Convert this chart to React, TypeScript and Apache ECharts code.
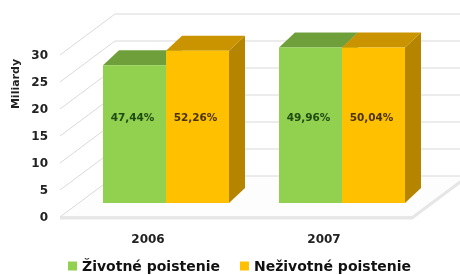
import React, { useEffect, useRef } from "react";
import * as echarts from "echarts";

const years = ["2006", "2007"];
const lifeValues = [25.5, 28.8];
const nonLifeValues = [28.2, 28.8];
const lifeShares = ["47,44%", "49,96%"];
const nonLifeShares = ["52,26%", "50,04%"];
const seriesNames = ["Životné poistenie", "Neživotné poistenie"];
const yTicks = [0, 5, 10, 15, 20, 25, 30];

const FONT = "DejaVu Sans";

export default function App() {
  const ref = useRef<HTMLDivElement>(null);
  useEffect(() => {
    if (!ref.current) return;
    const chart = echarts.init(ref.current, undefined, { renderer: "svg" });

    const DX = 55, DY = 41; // floor depth
    const BX = 18, BY = 14; // bar front-plane offset
    const DDX = 16, DDY = 15; // bar depth
    const BAR_FRAC = 63 / 176;
    const LABEL_LEVEL = 16;

    const faces = {
      0: { front: "#92d050", top: "#6f9f3a", side: "#6f9f3a", text: "#1f4a12", labels: lifeShares },
      1: { front: "#ffc000", top: "#c99400", side: "#b58500", text: "#4a3300", labels: nonLifeShares },
    } as any;

    const barRender = (s: number) => (params: any, api: any) => {
      const idx = api.value(0);
      const val = api.value(1);
      const c = api.coord([idx, 0]);
      const band = api.size([1, 0])[0];
      const w = band * BAR_FRAC;
      const x0 = (s === 0 ? c[0] - w : c[0]) + BX;
      const yBot = c[1] - BY;
      const yTop = api.coord([idx, val])[1] - BY;
      const f = faces[s];
      const ly = api.coord([idx, LABEL_LEVEL])[1] - BY;
      return {
        type: "group",
        children: [
          {
            type: "polygon",
            shape: { points: [[x0 + w, yTop], [x0 + w + DDX, yTop - DDY], [x0 + w + DDX, yBot - DDY], [x0 + w, yBot]] },
            style: { fill: f.side },
          },
          {
            type: "polygon",
            shape: { points: [[x0, yTop], [x0 + w, yTop], [x0 + w + DDX, yTop - DDY], [x0 + DDX, yTop - DDY]] },
            style: { fill: f.top },
          },
          {
            type: "rect",
            shape: { x: x0, y: yTop, width: w, height: yBot - yTop },
            style: { fill: f.front },
          },
          {
            type: "text",
            x: x0 + w / 2 - 2,
            y: ly,
            style: {
              text: f.labels[params.dataIndex],
              fill: f.text,
              font: `bold 10.5px "${FONT}"`,
              align: "center",
              verticalAlign: "middle",
            },
          },
        ],
      };
    };

    const wallRender = (params: any, api: any) => {
      const cs = params.coordSys;
      const v = api.value(1);
      const y = api.coord([0, v])[1];
      const x = cs.x;
      const children: any[] = [];
      if (v === 0) {
        children.push({
          type: "polygon",
          shape: { points: [[x, y], [x + cs.width, y], [x + cs.width + DX, y - DY], [x + DX, y - DY]] },
          style: { fill: "#fdfdfd", stroke: "#d9d9d9", lineWidth: 1 },
        });
        children.push({
          type: "polyline",
          shape: { points: [[x, y + 1], [x + cs.width, y + 1], [x + cs.width + DX, y - DY + 1]] },
          style: { fill: "none", stroke: "#e6e6e6", lineWidth: 3 },
        });
      } else {
        children.push({
          type: "polyline",
          shape: { points: [[x, y], [x + DX, y - DY], [x + cs.width + DX + 20, y - DY]] },
          style: { fill: "none", stroke: "#d9d9d9", lineWidth: 1 },
        });
      }
      return { type: "group", children };
    };

    chart.setOption({
      animation: false,
      grid: { left: 60, right: 48, top: 55, bottom: 58 },
      xAxis: {
        type: "category",
        data: years,
        axisLine: { show: false },
        axisTick: { show: false },
        axisLabel: { margin: 16, fontFamily: FONT, fontWeight: "bold", fontSize: 12, color: "#222" },
      },
      yAxis: {
        type: "value",
        min: 0,
        max: 30,
        interval: 5,
        axisLine: { show: false },
        axisTick: { show: false },
        splitLine: { show: false },
        axisLabel: { margin: 12, fontFamily: FONT, fontWeight: "bold", fontSize: 12, color: "#222" },
      },
      legend: {
        left: 68,
        top: 259,
        padding: 0,
        itemWidth: 9,
        itemHeight: 9,
        itemGap: 20,
        icon: "rect",
        textStyle: { fontFamily: FONT, fontWeight: "bold", fontSize: 14, color: "#111", padding: [0, 0, 0, 0] },
        data: seriesNames,
      },
      graphic: [
        {
          type: "text",
          x: 15,
          y: 84,
          rotation: Math.PI / 2,
          style: {
            text: "Miliardy",
            font: `bold 11px "${FONT}"`,
            fill: "#222",
            align: "center",
            verticalAlign: "middle",
          },
        },
      ],
      series: [
        {
          type: "custom",
          name: "walls",
          silent: true,
          renderItem: wallRender,
          data: yTicks.map((t) => [0, t]),
          encode: { x: 0, y: 1 },
          z: 1,
        },
        {
          type: "custom",
          name: seriesNames[0],
          renderItem: barRender(0),
          itemStyle: { color: "#92d050" },
          data: lifeValues.map((v, i) => [i, v]),
          encode: { x: 0, y: 1 },
          z: 2,
        },
        {
          type: "custom",
          name: seriesNames[1],
          renderItem: barRender(1),
          itemStyle: { color: "#ffc000" },
          data: nonLifeValues.map((v, i) => [i, v]),
          encode: { x: 0, y: 1 },
          z: 3,
        },
      ],
    });
    return () => chart.dispose();
  }, []);
  return (
    <div
      ref={ref}
      style={{ position: "fixed", left: 0, top: 0, width: 460, height: 275 }}
    />
  );
}
